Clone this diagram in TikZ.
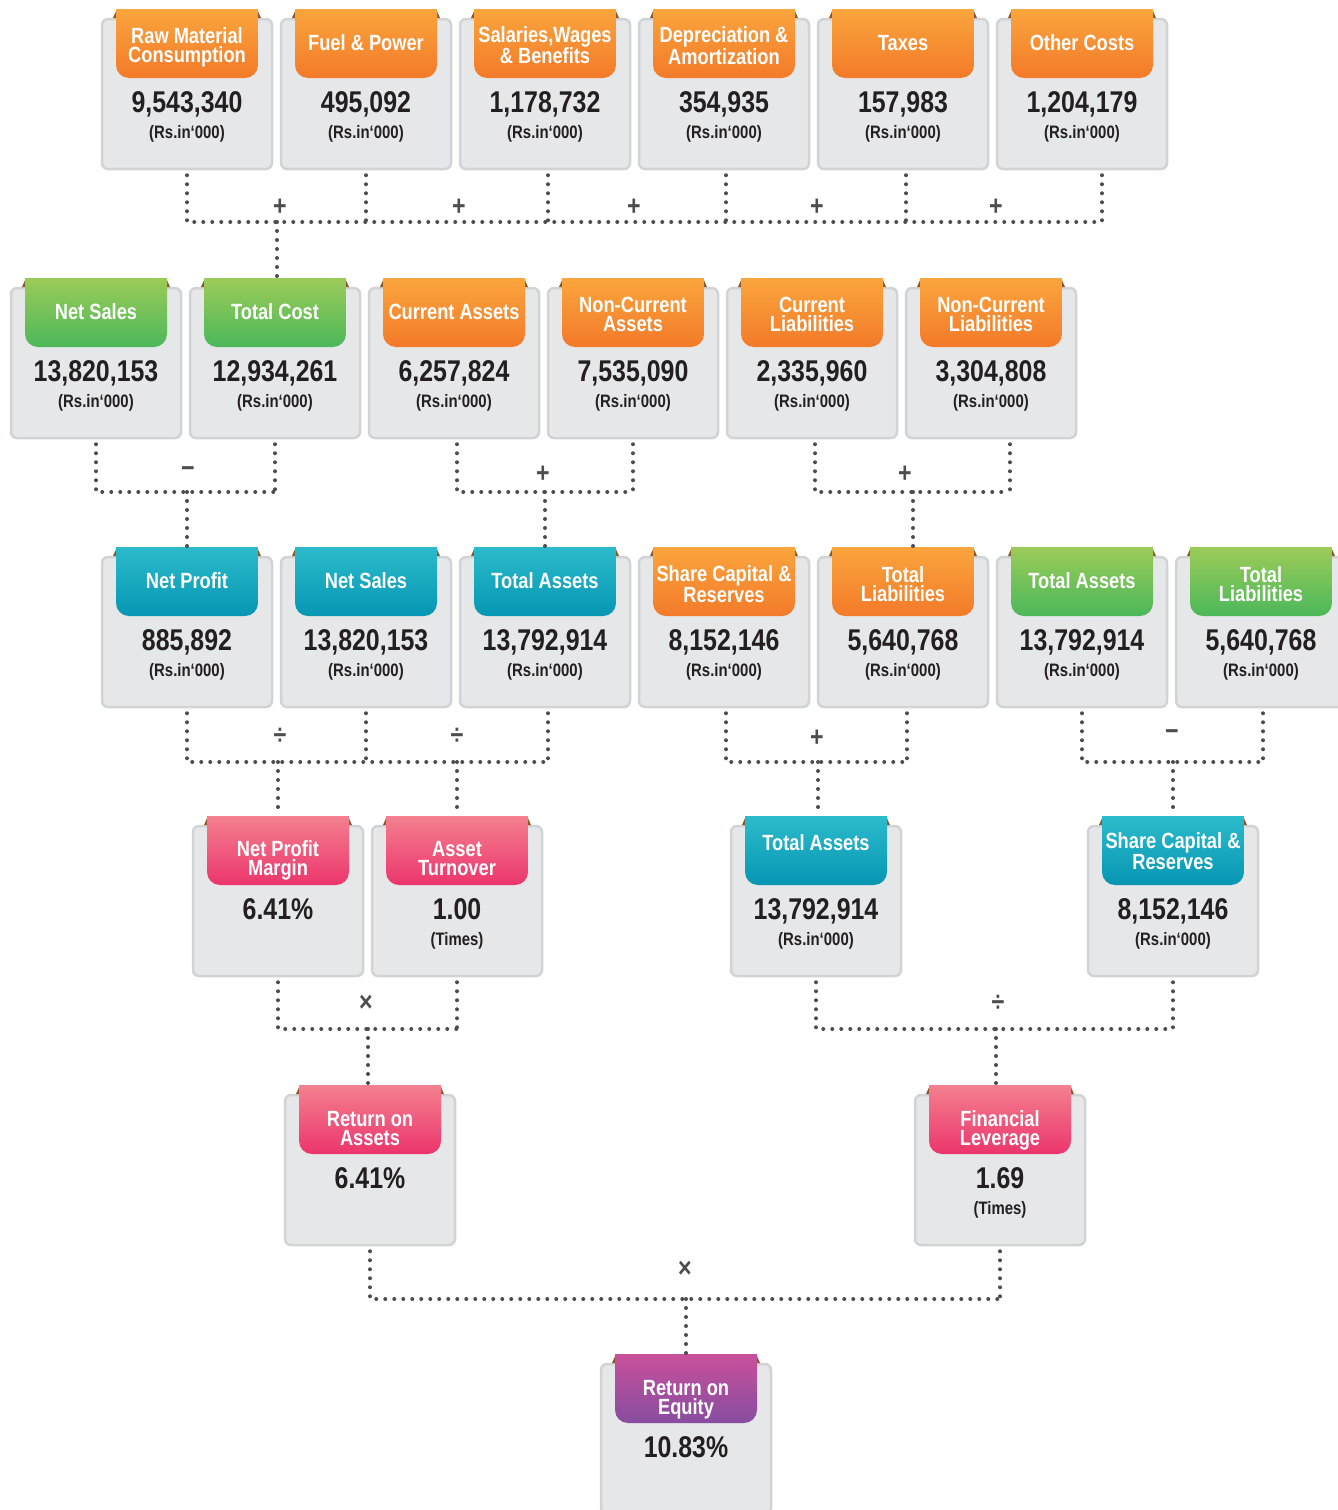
\documentclass[tikz,border=0pt]{standalone}
\usepackage{fontspec}
\setmainfont{Liberation Sans}[FakeStretch=0.83]

\definecolor{cardfill}{HTML}{E6E7E8}
\definecolor{cardline}{HTML}{D1D3D4}
\definecolor{dotgray}{HTML}{4D4D4F}
\definecolor{foldbrown}{HTML}{8C5A2A}
\definecolor{valueblack}{HTML}{231F20}
\definecolor{orangetop}{HTML}{FAA53D}
\definecolor{orangebot}{HTML}{F37A29}
\definecolor{greentop}{HTML}{9CCB58}
\definecolor{greenbot}{HTML}{4BB85A}
\definecolor{tealtop}{HTML}{2CBBCB}
\definecolor{tealbot}{HTML}{0696B3}
\definecolor{pinktop}{HTML}{F4808F}
\definecolor{pinkbot}{HTML}{EB356C}
\definecolor{purpletop}{HTML}{C9509B}
\definecolor{purplebot}{HTML}{874DA0}

\tikzset{
  cardbox/.style={rectangle, draw=cardline, fill=cardfill, line width=2.5pt,
    rounded corners=6pt, minimum width=170pt, minimum height=150pt},
  ribbon/.style={minimum width=142pt, minimum height=69pt, inner sep=0pt},
  title/.style={inner sep=0pt, align=center, text=white, text depth=0pt,
    font=\bfseries\fontsize{22}{19}\selectfont},
  value/.style={anchor=base, text=valueblack, font=\bfseries\fontsize{30}{30}\selectfont},
  unit/.style={anchor=base, text=valueblack, font=\bfseries\fontsize{18}{18}\selectfont},
  link/.style={dotgray, line width=4pt, line cap=round, dash pattern=on 0pt off 9pt},
  drop/.style={shorten <=5pt},
  op/.style={text=dotgray, inner sep=0pt, font=\bfseries\fontsize{28}{28}\selectfont}
}

% [#1 title offset] #2 name, #3 centre x, #4 top y, #5 colour, #6 title, #7 figure, #8 unit
\newcommand{\statcard}[8][24.5]{%
  \node[cardbox] (#2) at (#3,#4+76) {};
  \fill[foldbrown] (#3-74,#4) -- (#3-70,#4-9) -- (#3-70,#4) -- cycle;
  \fill[foldbrown] (#3+74,#4) -- (#3+70,#4-9) -- (#3+70,#4) -- cycle;
  \begin{scope}
    \clip[rounded corners=13pt] (#3-71,#4-30) rectangle (#3+71,#4+60);
    \shade[top color=#5top, bottom color=#5bot] (#3-71,#4-9) rectangle (#3+71,#4+60);
  \end{scope}
  \node[ribbon] (#2-t) at (#3,#4+25.5) {};
  \node[title] (#2-l) at (#3,#4+#1) {#6};
  \node[value] (#2-v) at (#3,#4+94) {#7};
  \node[unit] (#2-u) at (#3,#4+120) {#8};
}

\begin{document}
\begin{tikzpicture}[x=1pt, y=-1pt]
\fill[white] (0,0) rectangle (1338,1510);
\useasboundingbox (0,0) rectangle (1338,1510);

% cost items
\statcard[27.5]{raw}{187}{18}{orange}{Raw Material\\Consumption}{9,543,340}{(Rs.in‘000)}
\statcard{fuel}{366}{18}{orange}{Fuel \& Power}{495,092}{(Rs.in‘000)}
\statcard[27]{sal}{545}{18}{orange}{Salaries,Wages\\\& Benefits}{1,178,732}{(Rs.in‘000)}
\statcard[27.5]{dep}{724}{18}{orange}{Depreciation \&\\Amortization}{354,935}{(Rs.in‘000)}
\statcard{tax}{903}{18}{orange}{Taxes}{157,983}{(Rs.in‘000)}
\statcard{oth}{1082}{18}{orange}{Other Costs}{1,204,179}{(Rs.in‘000)}

% sales, cost and balance sheet items
\statcard{sales}{96}{287}{green}{Net Sales}{13,820,153}{(Rs.in‘000)}
\statcard{cost}{275}{287}{green}{Total Cost}{12,934,261}{(Rs.in‘000)}
\statcard{ca}{454}{287}{orange}{Current Assets}{6,257,824}{(Rs.in‘000)}
\statcard[27.5]{nca}{633}{287}{orange}{Non-Current\\Assets}{7,535,090}{(Rs.in‘000)}
\statcard[27.5]{cl}{812}{287}{orange}{Current\\Liabilities}{2,335,960}{(Rs.in‘000)}
\statcard[27.5]{ncl}{991}{287}{orange}{Non-Current\\Liabilities}{3,304,808}{(Rs.in‘000)}

% totals
\statcard{np}{187}{556}{teal}{Net Profit}{885,892}{(Rs.in‘000)}
\statcard{sales2}{366}{556}{teal}{Net Sales}{13,820,153}{(Rs.in‘000)}
\statcard{ta}{545}{556}{teal}{Total Assets}{13,792,914}{(Rs.in‘000)}
\statcard[28]{scr}{724}{556}{orange}{Share Capital \&\\Reserves}{8,152,146}{(Rs.in‘000)}
\statcard[28]{tl}{903}{556}{orange}{Total\\Liabilities}{5,640,768}{(Rs.in‘000)}
\statcard{ta2}{1082}{556}{green}{Total Assets}{13,792,914}{(Rs.in‘000)}
\statcard[28]{tl2}{1261}{556}{green}{Total\\Liabilities}{5,640,768}{(Rs.in‘000)}

% ratios
\statcard[33.5]{npm}{278}{825}{pink}{Net Profit\\Margin}{6.41\%}{}
\statcard[33.5]{at}{457}{825}{pink}{Asset\\Turnover}{1.00}{(Times)}
\statcard[17.5]{ta3}{816}{825}{teal}{Total Assets}{13,792,914}{(Rs.in‘000)}
\statcard[26]{scr2}{1173}{825}{teal}{Share Capital \&\\Reserves}{8,152,146}{(Rs.in‘000)}

\statcard[34]{roa}{370}{1094}{pink}{Return on\\Assets}{6.41\%}{}
\statcard[34]{fl}{1000}{1094}{pink}{Financial\\Leverage}{1.69}{(Times)}

\statcard[34]{roe}{686}{1363}{purple}{Return on\\Equity}{10.83\%}{}

% costs add up to total cost
\coordinate (bar1) at (0,222);
\draw[link, drop] (raw.south) |- ([xshift=20pt]oth.south |- bar1);
\draw[link, drop] (fuel.south) -- (fuel.south |- bar1);
\draw[link, drop] ([xshift=3pt]sal.south) -- ([xshift=3pt]sal.south |- bar1);
\draw[link, drop] ([xshift=2pt]dep.south) -- ([xshift=2pt]dep.south |- bar1);
\draw[link, drop] ([xshift=3pt]tax.south) -- ([xshift=3pt]tax.south |- bar1);
\draw[link, drop] ([xshift=20pt]oth.south) -- ([xshift=20pt]oth.south |- bar1);
\draw[link] ([xshift=2pt]cost-t.north |- bar1) -- ([xshift=2pt]cost-t.north);
\node[op] (s1) at (280,207) {+};
\node[op] (s2) at (459,207) {+};
\node[op] (s3) at (634,207) {+};
\node[op] (s4) at (817,207) {+};
\node[op] (s5) at (996,207) {+};

% second level
\coordinate (bar2) at (0,492);
\draw[link, drop] (sales.south) |- (cost.south |- bar2);
\draw[link, drop] (cost.south) -- (cost.south |- bar2);
\draw[link] (np-t.north |- bar2) -- (np-t.north);
\node[op] (s6) at (188,472) {−};
\draw[link, drop] ([xshift=3pt]ca.south) |- (nca.south |- bar2);
\draw[link, drop] (nca.south) -- (nca.south |- bar2);
\draw[link] (ta-t.north |- bar2) -- (ta-t.north);
\node[op] (s7) at (543,474) {+};
\draw[link, drop] ([xshift=3pt]cl.south) |- ([xshift=19pt]ncl.south |- bar2);
\draw[link, drop] ([xshift=19pt]ncl.south) -- ([xshift=19pt]ncl.south |- bar2);
\draw[link] ([xshift=10pt]tl-t.north |- bar2) -- ([xshift=10pt]tl-t.north);
\node[op] (s8) at (905,474) {+};

% third level
\coordinate (bar3) at (0,762);
\draw[link, drop] (np.south) |- ([xshift=3pt]ta.south |- bar3);
\draw[link, drop] (sales2.south) -- (sales2.south |- bar3);
\draw[link, drop] ([xshift=3pt]ta.south) -- ([xshift=3pt]ta.south |- bar3);
\draw[link] (npm-t.north |- bar3) -- (npm-t.north);
\draw[link] (at-t.north |- bar3) -- (at-t.north);
\node[op] (s9) at (280,736) {÷};
\node[op] (s10) at (457,736) {÷};
\draw[link, drop] ([xshift=2pt]scr.south) |- ([xshift=4pt]tl.south |- bar3);
\draw[link, drop] ([xshift=4pt]tl.south) -- ([xshift=4pt]tl.south |- bar3);
\draw[link] ([xshift=2pt]ta3-t.north |- bar3) -- ([xshift=2pt]ta3-t.north);
\node[op] (s11) at (817,738) {+};
\draw[link, drop] (ta2.south) |- ([xshift=2pt]tl2.south |- bar3);
\draw[link, drop] ([xshift=2pt]tl2.south) -- ([xshift=2pt]tl2.south |- bar3);
\draw[link] (scr2-t.north |- bar3) -- (scr2-t.north);
\node[op] (s12) at (1172,735) {−};

% fourth level
\coordinate (bar4) at (0,1029);
\draw[link, drop] (npm.south) |- (at.south |- bar4);
\draw[link, drop] (at.south) -- (at.south |- bar4);
\draw[link] ([xshift=-2pt]roa-t.north |- bar4) -- ([xshift=-2pt]roa-t.north);
\node[op] (s13) at (366,1003) {×};
\draw[link, drop] (ta3.south) |- (scr2.south |- bar4);
\draw[link, drop] (scr2.south) -- (scr2.south |- bar4);
\draw[link] ([xshift=-4pt]fl-t.north |- bar4) -- ([xshift=-4pt]fl-t.north);
\node[op] (s14) at (998,1003) {÷};

% return on equity
\coordinate (bar5) at (0,1299);
\draw[link, drop] (roa.south) |- (fl.south |- bar5);
\draw[link, drop] (fl.south) -- (fl.south |- bar5);
\draw[link] (roe-t.north |- bar5) -- (roe-t.north);
\node[op] (s15) at (685,1269) {×};
\end{tikzpicture}
\end{document}
